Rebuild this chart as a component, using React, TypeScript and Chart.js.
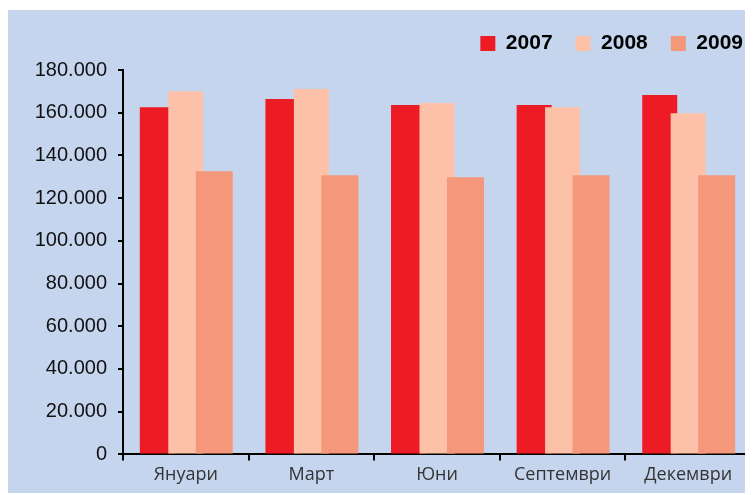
import React, { useEffect, useRef } from "react";
import { Chart, registerables } from "chart.js";

Chart.register(...registerables);

const categories = ["Януари", "Март", "Юни", "Септември", "Декември"];
const series2007 = [162600, 166400, 163600, 163600, 168300];
const series2008 = [170100, 171100, 164500, 162600, 159800];
const series2009 = [132600, 130700, 129800, 130700, 130700];
const seriesNames = ["2007", "2008", "2009"];
const yMax = 180000;
const yStep = 20000;

const fmt = (v: number) => String(v).replace(/\B(?=(\d{3})+(?!\d))/g, ".");

const drawOrderPlugin = {
  id: "drawOrder",
  beforeDatasetsDraw(chart: any) {
    for (let i = 0; i < chart.data.datasets.length; i++) {
      const meta = chart.getDatasetMeta(i);
      if (!meta.hidden) meta.controller.draw();
    }
    return false;
  },
};

const legendFitPlugin = {
  id: "legendFit",
  beforeLayout(chart: any) {
    const lg = chart.legend;
    if (lg && !lg.__patched) {
      const orig = lg.fit.bind(lg);
      lg.fit = function () {
        orig();
        this.height = 60;
      };
      lg.__patched = true;
    }
  },
  afterLayout(chart: any) {
    if (chart.legend) {
      chart.legend.left += 15;
      chart.legend.right += 15;
    }
  },
};

export default function App() {
  const ref = useRef<HTMLCanvasElement>(null);
  useEffect(() => {
    if (!ref.current) return;
    const chart = new Chart(ref.current, {
      type: "bar",
      data: {
        labels: categories,
        datasets: [
          { label: seriesNames[0], data: series2007, backgroundColor: "#ED1C24", barPercentage: 1.23, categoryPercentage: 0.68 },
          { label: seriesNames[1], data: series2008, backgroundColor: "#FCC1A8", barPercentage: 1.23, categoryPercentage: 0.68 },
          { label: seriesNames[2], data: series2009, backgroundColor: "#F5977A", barPercentage: 1.3, categoryPercentage: 0.68 },
        ],
      },
      options: {
        animation: false,
        responsive: true,
        maintainAspectRatio: false,
        layout: { padding: { top: 0, right: 2, bottom: 3, left: 0 } },
        plugins: {
          tooltip: { enabled: false },
          legend: {
            position: "top",
            align: "end",
            labels: {
              boxWidth: 15,
              boxHeight: 15,
              padding: 23,
              color: "#000",
              font: { family: "'Liberation Sans', Arial, sans-serif", size: 21, weight: "bold" },
            },
          },
        },
        scales: {
          x: {
            grid: { display: true, drawOnChartArea: false, tickLength: 6, color: "#000", lineWidth: 2, offset: true },
            border: { display: true, color: "#000", width: 2 },
            ticks: { color: "#333", padding: 4, font: { family: "'Open Sans', sans-serif", size: 18 } },
          },
          y: {
            min: 0,
            max: yMax,
            afterFit(scale: any) { scale.width = 116; },
            grid: { display: true, drawOnChartArea: false, tickLength: 5, color: "#000", lineWidth: 2 },
            border: { display: true, color: "#000", width: 2 },
            ticks: {
              stepSize: yStep,
              color: "#111",
              padding: 11,
              font: { family: "'Liberation Sans', Arial, sans-serif", size: 20 },
              callback: (v: any) => fmt(Number(v)),
            },
          },
        },
      },
      plugins: [drawOrderPlugin, legendFitPlugin],
    });
    return () => chart.destroy();
  }, []);
  return (
    <div style={{ position: "relative", width: 746, height: 483, margin: "2px 0 0 -1px", background: "#C6D5EE" }}>
      <canvas ref={ref} />
    </div>
  );
}
